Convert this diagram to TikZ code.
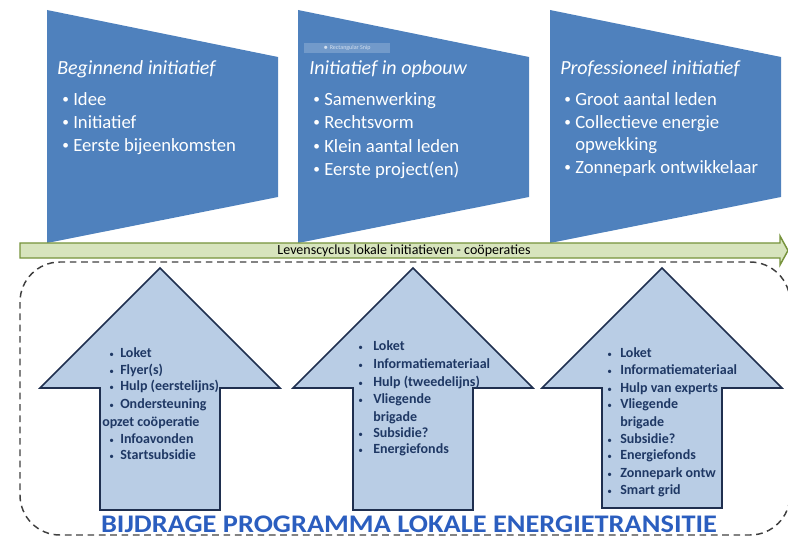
\documentclass[tikz,border=0pt]{standalone}
\usepackage{fontspec}
\setmainfont{Carlito}

\definecolor{panelblue}{HTML}{4F81BD}
\definecolor{armfill}{HTML}{B9CDE5}
\definecolor{armline}{HTML}{1F2F4F}
\definecolor{armink}{HTML}{1F3864}
\definecolor{progblue}{HTML}{2B5EBF}
\definecolor{barfill}{HTML}{D7E4BD}
\definecolor{barline}{HTML}{77933C}

\tikzset{
  panel/.style={fill=panelblue},
  phead/.style={anchor=base west, inner sep=0pt, yshift=-4pt, text=white,
    font=\fontsize{15}{17}\selectfont\itshape},
  ptext/.style={anchor=base west, inner sep=0pt, yshift=-4pt, text=white,
    font=\fontsize{14}{16}\selectfont},
  pdot/.style={anchor=base west, inner sep=0pt, yshift=-3pt, text=white,
    font=\fontsize{10}{10}\selectfont},
  uparrow/.style={fill=armfill, draw=armline, line width=1.2pt, line join=miter},
  atext/.style={anchor=base west, inner sep=0pt, yshift=-3pt, text=armink,
    font=\fontsize{10.5}{12}\selectfont\bfseries},
  adot/.style={anchor=base west, inner sep=0pt, yshift=-3pt, text=armink,
    font=\fontsize{7}{8}\selectfont},
  lifebar/.style={fill=barfill, draw=barline, line width=1.1pt},
  support/.style={draw=black!75, line width=1.1pt, dash pattern=on 5pt off 3.5pt,
    rounded corners=30pt}
}

\begin{document}
\begin{tikzpicture}[x=0.75pt,y=-0.75pt]
\useasboundingbox (0,0) rectangle (788,538);

% fasen
\foreach \l in {47,298,550} {
  \fill[panel] (\l,10) -- (\l+231,57) -- (\l+231,197) -- (\l,243) -- cycle;
}
\node[fill=panelblue!80!white, minimum width=64pt, minimum height=7pt, inner sep=0pt,
  text=white!75!panelblue, font=\fontsize{4.5}{5}\selectfont] (snip) at (347,48) {$\bullet$ Rectangular Snip};

\node[phead] (f1) at (57,69) {Beginnend initiatief};
\foreach \y/\t [count=\n] in {100/Idee, 123/Initiatief, 146/Eerste bijeenkomsten} {
  \node[pdot] (f1d-\n) at (62,\y) {•};
  \node[ptext] (f1t-\n) at (73,\y) {\t};
}

\node[phead] (f2) at (309,69) {Initiatief in opbouw};
\foreach \y/\t [count=\n] in {100/Samenwerking, 123/Rechtsvorm, 147/Klein aantal leden, 170/Eerste project(en)} {
  \node[pdot] (f2d-\n) at (313,\y) {•};
  \node[ptext] (f2t-\n) at (324,\y) {\t};
}

\node[phead] (f3) at (560,69) {Professioneel initiatief};
\foreach \y/\b/\t [count=\n] in {100/1/Groot aantal leden, 123/1/Collectieve energie, 145/0/opwekking, 168/1/Zonnepark ontwikkelaar} {
  \ifnum\b=1 \node[pdot] (f3d-\n) at (564,\y) {•}; \fi
  \node[ptext] (f3t-\n) at (575,\y) {\t};
}

% levenscyclus
\draw[lifebar] (20,243) -- (780,243) -- (780,236) -- (788,250.5) -- (780,265) -- (780,258) -- (20,258) -- cycle;
\node[font=\fontsize{10.5}{12}\selectfont, inner sep=0pt] (cyclus) at (404,251) {Levenscyclus lokale initiatieven - coöperaties};

% programma
\draw[support] (20,262) rectangle (790,535);

\foreach \c/\b in {160/510, 413/510, 662/508} {
  \draw[uparrow] (\c,268) -- (\c+120,388) -- (\c+60,388) -- (\c+60,\b) -- (\c-60,\b)
    -- (\c-60,388) -- (\c-120,388) -- cycle;
}

\foreach \x/\y/\b/\t [count=\n] in {120/353/1/Loket, 120/370/1/Flyer(s), 120/386/1/Hulp (eerstelijns),
    120/404/1/Ondersteuning, 102/422/0/opzet coöperatie, 120/439/1/Infoavonden, 120/455/1/Startsubsidie} {
  \ifnum\b=1 \node[adot] (h1d-\n) at (109,\y) {•}; \fi
  \node[atext] (h1t-\n) at (\x,\y) {\t};
}

\foreach \x/\y/\b/\t [count=\n] in {373/346/1/Loket, 373/364/1/Informatiemateriaal, 373/382/1/Hulp (tweedelijns),
    373/399/1/Vliegende, 373/417/0/brigade, 373/433/1/Subsidie?, 373/449/1/Energiefonds} {
  \ifnum\b=1 \node[adot] (h2d-\n) at (358,\y) {•}; \fi
  \node[atext] (h2t-\n) at (\x,\y) {\t};
}

\foreach \x/\y/\b/\t [count=\n] in {620/353/1/Loket, 620/370/1/Informatiemateriaal, 620/388/1/Hulp van experts,
    620/404/1/Vliegende, 620/422/0/brigade, 620/439/1/Subsidie?, 620/455/1/Energiefonds,
    620/473/1/Zonnepark ontw, 620/490/1/Smart grid} {
  \ifnum\b=1 \node[adot] (h3d-\n) at (607,\y) {•}; \fi
  \node[atext] (h3t-\n) at (\x,\y) {\t};
}

\node[text=progblue, font=\fontsize{19}{22}\selectfont\bfseries, inner sep=0pt, xscale=1.12] (prog) at (409,524)
  {BIJDRAGE PROGRAMMA LOKALE ENERGIETRANSITIE};
\end{tikzpicture}
\end{document}
